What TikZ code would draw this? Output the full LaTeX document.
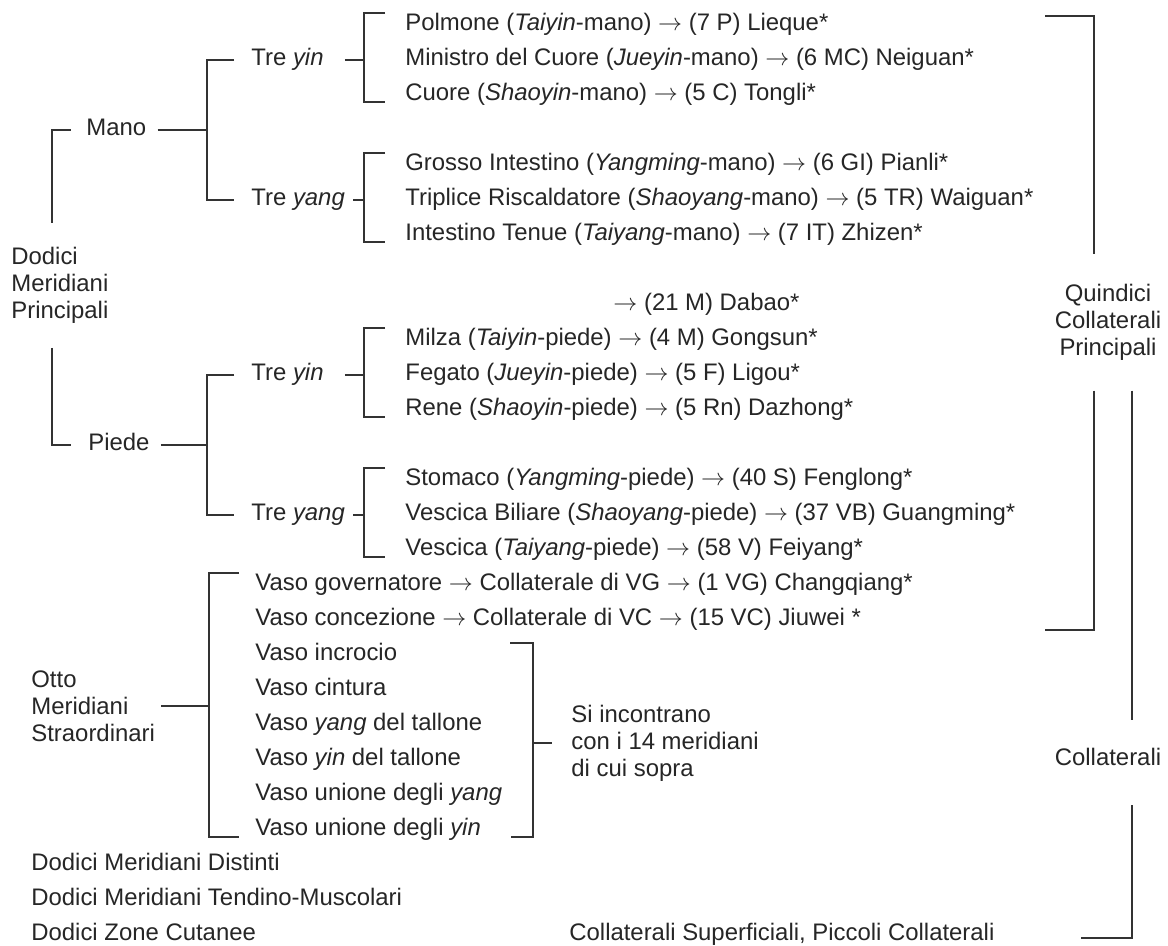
\documentclass[tikz,border=0pt]{standalone}
\usepackage{fontspec}
\setmainfont{Liberation Sans}
\usepackage{tikz}
\newcommand{\rowfont}{\fontsize{11.95pt}{13.5pt}\selectfont}

\begin{document}
\begin{tikzpicture}[
    x=0.5pt, y=-0.5pt,
    every node/.style={inner sep=0pt, font=\rowfont, text=black!85},
    row/.style={anchor=mid west},
    block/.style={anchor=west, align=left},
    side/.style={align=center},
    ln/.style={draw=black!80, line width=0.8pt},
]
\useasboundingbox[fill=white] (0,0) rectangle (1168,946);

% Meridiani principali
\node[block] (dmp) at (11,285) {Dodici\\Meridiani\\Principali};
\node[row] (mano) at (86,130) {Mano};
\node[row] (piede) at (88,445) {Piede};

% Mano
\node[row] (mtyin) at (251,60) {Tre \textit{yin}};
\node[row] (mtyang) at (251,200) {Tre \textit{yang}};
\node[row] (m1) at (405,25) {Polmone (\textit{Taiyin}-mano) $\rightarrow$ (7 P) Lieque*};
\node[row] (m2) at (405,60) {Ministro del Cuore (\textit{Jueyin}-mano) $\rightarrow$ (6 MC) Neiguan*};
\node[row] (m3) at (405,95) {Cuore (\textit{Shaoyin}-mano) $\rightarrow$ (5 C) Tongli*};
\node[row] (m4) at (405,165) {Grosso Intestino (\textit{Yangming}-mano) $\rightarrow$ (6 GI) Pianli*};
\node[row] (m5) at (405,200) {Triplice Riscaldatore (\textit{Shaoyang}-mano) $\rightarrow$ (5 TR) Waiguan*};
\node[row] (m6) at (405,235) {Intestino Tenue (\textit{Taiyang}-mano) $\rightarrow$ (7 IT) Zhizen*};

% Piede
\node[row] (dabao) at (613,305) {$\rightarrow$ (21 M) Dabao*};
\node[row] (ptyin) at (251,375) {Tre \textit{yin}};
\node[row] (ptyang) at (251,515) {Tre \textit{yang}};
\node[row] (p1) at (405,340) {Milza (\textit{Taiyin}-piede) $\rightarrow$ (4 M) Gongsun*};
\node[row] (p2) at (405,375) {Fegato (\textit{Jueyin}-piede) $\rightarrow$ (5 F) Ligou*};
\node[row] (p3) at (405,410) {Rene (\textit{Shaoyin}-piede) $\rightarrow$ (5 Rn) Dazhong*};
\node[row] (p4) at (405,480) {Stomaco (\textit{Yangming}-piede) $\rightarrow$ (40 S) Fenglong*};
\node[row] (p5) at (405,515) {Vescica Biliare (\textit{Shaoyang}-piede) $\rightarrow$ (37 VB) Guangming*};
\node[row] (p6) at (405,550) {Vescica (\textit{Taiyang}-piede) $\rightarrow$ (58 V) Feiyang*};

% Meridiani straordinari
\node[block] (otto) at (31,706) {Otto\\Meridiani\\Straordinari};
\node[row] (vg) at (255,585) {Vaso governatore $\rightarrow$ Collaterale di VG $\rightarrow$ (1 VG) Changqiang*};
\node[row] (vc) at (255,620) {Vaso concezione $\rightarrow$ Collaterale di VC $\rightarrow$ (15 VC) Jiuwei *};
\node[row] (v3) at (255,655) {Vaso incrocio};
\node[row] (v4) at (255,690) {Vaso cintura};
\node[row] (v5) at (255,725) {Vaso \textit{yang} del tallone};
\node[row] (v6) at (255,760) {Vaso \textit{yin} del tallone};
\node[row] (v7) at (255,795) {Vaso unione degli \textit{yang}};
\node[row] (v8) at (255,830) {Vaso unione degli \textit{yin}};
\node[block] (sic) at (571,743) {Si incontrano\\con i 14 meridiani\\di cui sopra};

% Altri
\node[row] (dist) at (31,865) {Dodici Meridiani Distinti};
\node[row] (tend) at (31,900) {Dodici Meridiani Tendino-Muscolari};
\node[row] (cut) at (31,935) {Dodici Zone Cutanee};
\node[row] (csup) at (569,935) {Collaterali Superficiali, Piccoli Collaterali};

% Colonna destra
\node[side] (qcp) at (1108,322) {Quindici\\Collaterali\\Principali};
\node[side] (coll) at (1108,757) {Collaterali};

% spine
\coordinate (xa1) at (52,223);
\coordinate (xa2) at (52,348);
\coordinate (xb) at (207,0);
\coordinate (xc) at (364,0);
\coordinate (xo) at (209,0);
\coordinate (xe) at (533,0);
\coordinate (qa) at (1045,16);
\coordinate (qd) at (1045,630);
\coordinate (rd) at (1081,938);

\draw[ln] (xa1) |- ([shift={(-15,0)}]mano.mid west);
\draw[ln] (xa2) |- ([shift={(-17,0)}]piede.mid west);

\draw[ln] ([shift={(11,0)}]mano.mid east) -- (mano.mid east -| xb);
\draw[ln] ([shift={(-17,0)}]mtyin.mid west) -- (mtyin.mid west -| xb) -- (mtyang.mid west -| xb) -- ([shift={(-17,0)}]mtyang.mid west);
\draw[ln] ([shift={(11,0)}]piede.mid east) -- (piede.mid east -| xb);
\draw[ln] ([shift={(-17,0)}]ptyin.mid west) -- (ptyin.mid west -| xb) -- (ptyang.mid west -| xb) -- ([shift={(-17,0)}]ptyang.mid west);

\draw[ln] ([shift={(21,0)}]mtyin.mid east) -- (mtyin.mid east -| xc);
\draw[ln] ([shift={(8,0)}]mtyang.mid east) -- (mtyang.mid east -| xc);
\draw[ln] ([shift={(21,0)}]ptyin.mid east) -- (ptyin.mid east -| xc);
\draw[ln] ([shift={(8,0)}]ptyang.mid east) -- (ptyang.mid east -| xc);
\draw[ln] ([shift={(-20,-12)}]m1.mid west) -- ++(-21,0) |- ([shift={(-20,7)}]m3.mid west);
\draw[ln] ([shift={(-20,-12)}]m4.mid west) -- ++(-21,0) |- ([shift={(-20,7)}]m6.mid west);
\draw[ln] ([shift={(-20,-12)}]p1.mid west) -- ++(-21,0) |- ([shift={(-20,7)}]p3.mid west);
\draw[ln] ([shift={(-20,-12)}]p4.mid west) -- ++(-21,0) |- ([shift={(-20,7)}]p6.mid west);

\draw[ln] ([shift={(6,0)}]otto.east) -- (otto.east -| xo);
\draw[ln] ([shift={(-16,-12)}]vg.mid west) -- ++(-30,0) |- ([shift={(-16,7)}]v8.mid west);
\draw[ln] ([shift={(255,-12)}]v3.mid west) -| ([shift={(278,7)}]v8.mid west) -- ++(-22,0);
\draw[ln] (sic.west -| xe) -- ([shift={(-19,0)}]sic.west);

\draw[ln] (qa) -| ([shift={(-14,-29)}]qcp.north);
\draw[ln] ([shift={(-14,30)}]qcp.south) |- (qd);
\draw[ln] ([shift={(24,30)}]qcp.south) -- ([shift={(24,-28)}]coll.north);
\draw[ln] ([shift={(24,39)}]coll.south) |- (rd);

\end{tikzpicture}
\end{document}
